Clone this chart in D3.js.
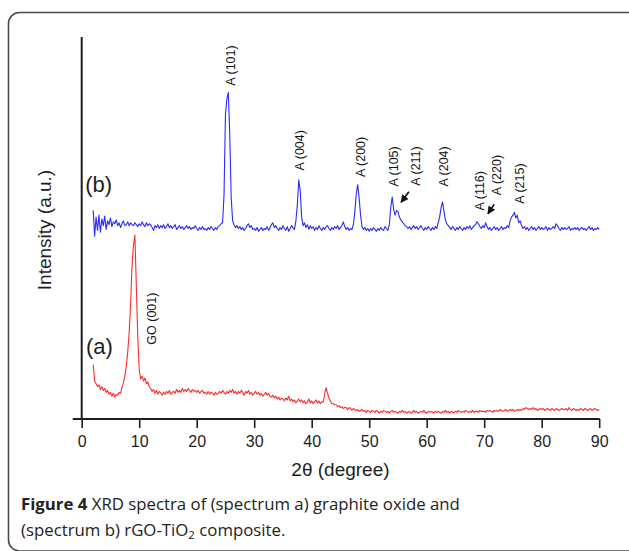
<!DOCTYPE html>
<html>
<head>
<meta charset="utf-8">
<script src="https://cdnjs.cloudflare.com/ajax/libs/d3/7.8.5/d3.min.js"></script>
<style>
  html, body { margin: 0; padding: 0; background: #fff; }
  svg { display: block; }
</style>
</head>
<body>
<svg id="fig" width="629" height="551"></svg>
<script>
// XRD scan: 2θ from 2° to 90°, step 0.25°
const scanStart = 2;
const scanStep = 0.25;

// (b) rGO-TiO2 composite, intensity (a.u.)
const spectrumB = [
  219,192,212,198, 214,196,210,203, 213,199,208,204, 211,202,207,205,
  209,203,206,201, 205,208,203,204, 207,203,206,204, 203,206,204,202,
  205,203,207,204, 202,206,203,205, 204,201,198,203, 201,204,200,203,
  201,204,200,202, 205,201,203,200, 202,204,199,201, 203,200,202,199,
  201,203,200,202, 199,201,200,203, 200,198,201,199, 202,199,200,198,
  201,199,202,200, 198,201,199,202, 203,205,206,235, 320,336,343,298,
  232,208,204,201, 203,200,202,199, 201,198,200,203, 205,201,203,199,
  200,198,201,197, 199,201,198,200, 199,202,198,201, 204,206,201,203,
  200,198,201,199, 203,200,198,202, 197,200,203,201, 199,208,225,251,
  240,212,203,206, 201,204,199,203, 200,202,198,201, 199,203,200,198,
  201,199,202,203, 200,198,201,199, 202,200,203,199, 201,203,207,202,
  199,201,198,200, 199,204,218,236, 246,232,214,202, 199,201,198,200,
  197,200,198,201, 199,197,200,198, 201,199,198,202, 200,198,204,222,
  233,220,214,219, 218,212,209,207, 205,203,202,200, 202,199,201,203,
  200,202,199,201, 203,200,198,201, 199,202,200,198, 201,199,202,200,
  206,212,222,228, 218,209,205,203, 201,199,202,200, 198,201,199,202,
  200,198,201,199, 202,200,203,199, 201,203,204,207, 205,202,200,203,
  201,206,202,199, 201,198,200,202, 199,201,198,200, 202,199,201,200,
  203,201,208,212, 214,217,211,214, 206,208,203,200, 202,199,201,198,
  200,202,199,201, 198,200,202,199, 201,199,200,202, 198,201,199,200,
  202,200,205,203, 200,198,201,199, 201,199,200,202, 198,200,199,201,
  199,201,198,200, 201,199,200,198, 200,202,199,201, 198,200,199,201,
  199
];

// (a) graphite oxide, intensity (a.u.)
const spectrumA = [
  57,40,37,34, 36,31,34,30, 32,28,30,26, 28,24,27,23,
  26,25,28,27, 33,38,45,55, 70,90,120,160, 182,193,140,86,
  52,42,45,40, 43,37,39,34, 32,29,31,27, 30,26,29,27,
  25,28,26,29, 27,30,26,28, 29,27,31,28, 30,28,32,29,
  31,29,32,30, 28,31,29,30, 28,30,27,29, 30,27,28,26,
  29,26,28,27, 25,28,26,27, 29,27,30,28, 26,29,27,30,
  28,31,27,29, 26,29,27,30, 28,25,29,27, 30,26,28,25,
  27,29,26,28, 25,27,24,26, 28,25,27,24, 23,25,22,24,
  21,23,20,22, 21,19,22,20, 24,19,21,18, 20,17,19,21,
  18,20,17,19, 16,18,21,17, 19,16,18,20, 17,19,16,18,
  18,26,33,27, 22,19,16,16, 15,15,13,14, 12,13,11,12,
  12,10,12,11, 9,11,10,9, 10,8,9,10, 8,9,7,9,
  8,7,9,8, 7,9,8,6, 8,7,9,8, 7,8,6,8,
  9,7,8,7, 6,8,7,9, 7,8,6,7, 8,6,7,9,
  7,8,6,7, 8,7,9,7, 6,8,7,8, 7,6,8,7,
  8,7,6,8, 7,9,7,8, 6,8,7,7, 8,7,9,8,
  7,8,7,9, 8,7,8,7, 9,7,8,8, 7,9,8,8,
  8,7,9,8, 9,8,7,9, 8,9,8,10, 9,8,9,10,
  8,9,10,9, 10,8,9,10, 9,10,9,11, 10,12,11,10,
  11,10,12,10, 11,9,10,11, 10,11,9,10, 11,10,9,11,
  10,9,11,10, 9,10,11,10, 10,11,9,12, 10,9,11,10,
  9,10,9,11, 10,9,11,10, 9,10,11,9, 10,11,10,9,
  10
];

// x-axis ticks (degrees)
const xTicks = [0, 10, 20, 30, 40, 50, 60, 70, 80, 90];

// Reflection labels: text, 2θ of the label, intensity at the label's foot
const peakLabels = [
  { text: "A (101)", angle: 25.8, level: 350 },
  { text: "A (004)", angle: 37.85, level: 261 },
  { text: "A (200)", angle: 48.4, level: 254 },
  { text: "A (105)", angle: 54.2, level: 244 },
  { text: "A (211)", angle: 58.0, level: 245 },
  { text: "A (204)", angle: 63.0, level: 244 },
  { text: "A (116)", angle: 69.15, level: 219 },
  { text: "A (220)", angle: 72.2, level: 235 },
  { text: "A (215)", angle: 76.1, level: 226 },
  { text: "GO (001)", angle: 12.2, level: 78 }
];

// Arrows pointing at weak reflections: [from angle, from level, to angle, to level]
const peakArrows = [
  [56.9, 238.5, 55.55, 227.5],
  [71.75, 225.5, 70.65, 215.5]
];

// Spectrum tags
const spectrumTags = [
  { text: "(b)", angle: 0.6, level: 238 },
  { text: "(a)", angle: 0.75, level: 68.5 }
];

const svg = d3.select("#fig");

// panel frame
svg.append("rect")
  .attr("x", 8.5).attr("y", 12.5)
  .attr("width", 640).attr("height", 538.5)
  .attr("rx", 11).attr("ry", 11)
  .attr("fill", "none")
  .attr("stroke", "#4a4a4a")
  .attr("stroke-width", 1.6);

const x = d3.scaleLinear().domain([0, 90]).range([81.7, 599.2]);
const y = d3.scaleLinear().domain([0, 400]).range([419, 38]);

const chartFont = "'Liberation Sans', Arial, Helvetica, sans-serif";
const ink = "#1e1e1e";

// spectra
const line = d3.line()
  .x((d, i) => x(scanStart + i * scanStep))
  .y(d => y(d));

svg.append("path")
  .datum(spectrumA)
  .attr("d", line)
  .attr("fill", "none")
  .attr("stroke", "#ff2a2a")
  .attr("stroke-width", 1.1)
  .attr("stroke-linejoin", "round");

svg.append("path")
  .datum(spectrumB)
  .attr("d", line)
  .attr("fill", "none")
  .attr("stroke", "#2b2bf5")
  .attr("stroke-width", 1.1)
  .attr("stroke-linejoin", "round");

// x axis
const xAxis = d3.axisBottom(x)
  .tickValues(xTicks)
  .tickSize(9)
  .tickPadding(8)
  .tickFormat(d3.format("d"));

const gx = svg.append("g")
  .attr("transform", `translate(0,${y(0)})`)
  .call(xAxis);
gx.select(".domain").remove();
gx.selectAll(".tick line").attr("stroke", ink).attr("stroke-width", 1.6);
gx.selectAll(".tick text")
  .attr("fill", ink)
  .style("font-family", chartFont)
  .style("font-size", "16px");

svg.append("line")
  .attr("x1", x.range()[0] - 9).attr("x2", x.range()[1] + 0.5)
  .attr("y1", y(0)).attr("y2", y(0))
  .attr("stroke", ink).attr("stroke-width", 2);

// y axis (no ticks)
svg.append("line")
  .attr("x1", x(0)).attr("x2", x(0))
  .attr("y1", y(0)).attr("y2", y.range()[1] - 1)
  .attr("stroke", ink).attr("stroke-width", 2);

// axis titles
svg.append("text")
  .attr("x", (x.range()[0] + x.range()[1]) / 2)
  .attr("y", 476)
  .attr("text-anchor", "middle")
  .attr("fill", ink)
  .style("font-family", chartFont)
  .style("font-size", "19px")
  .text("2θ (degree)");

svg.append("text")
  .attr("transform", "translate(44,230) rotate(-90)")
  .attr("text-anchor", "middle")
  .attr("dy", "0.35em")
  .attr("fill", ink)
  .style("font-family", chartFont)
  .style("font-size", "19px")
  .text("Intensity (a.u.)");

// reflection labels
svg.selectAll("text.peak")
  .data(peakLabels)
  .join("text")
  .attr("class", "peak")
  .attr("transform", d => `translate(${x(d.angle)},${y(d.level)}) rotate(-90)`)
  .attr("dy", "0.36em")
  .attr("text-anchor", "start")
  .attr("fill", "#111")
  .style("font-family", chartFont)
  .style("font-size", "12.5px")
  .text(d => d.text);

// arrows
svg.append("defs").append("marker")
  .attr("id", "head")
  .attr("viewBox", "0 0 10 10")
  .attr("refX", 9).attr("refY", 5)
  .attr("markerWidth", 5).attr("markerHeight", 5)
  .attr("orient", "auto")
  .append("path")
  .attr("d", "M0,0 L10,5 L0,10 z")
  .attr("fill", "#111");

svg.selectAll("line.arrow")
  .data(peakArrows)
  .join("line")
  .attr("class", "arrow")
  .attr("x1", d => x(d[0])).attr("y1", d => y(d[1]))
  .attr("x2", d => x(d[2])).attr("y2", d => y(d[3]))
  .attr("stroke", "#111")
  .attr("stroke-width", 1.6)
  .attr("marker-end", "url(#head)");

// spectrum tags
svg.selectAll("text.tag")
  .data(spectrumTags)
  .join("text")
  .attr("class", "tag")
  .attr("x", d => x(d.angle))
  .attr("y", d => y(d.level))
  .attr("fill", ink)
  .style("font-family", chartFont)
  .style("font-size", "22px")
  .text(d => d.text);

// caption
const capFont = "'Open Sans', 'Noto Sans', sans-serif";
const cap1 = svg.append("text")
  .attr("x", 21).attr("y", 510)
  .attr("fill", "#222")
  .style("font-family", capFont)
  .style("font-size", "16.8px");
cap1.append("tspan").style("font-weight", "bold").text("Figure 4");
cap1.append("tspan").text(" XRD spectra of (spectrum a) graphite oxide and");

const cap2 = svg.append("text")
  .attr("x", 21).attr("y", 536)
  .attr("fill", "#222")
  .style("font-family", capFont)
  .style("font-size", "16.8px");
cap2.append("tspan").text("(spectrum b) rGO-TiO");
cap2.append("tspan").attr("baseline-shift", "-22%").style("font-size", "11.5px").text("2");
cap2.append("tspan").text(" composite.");
</script>
</body>
</html>
